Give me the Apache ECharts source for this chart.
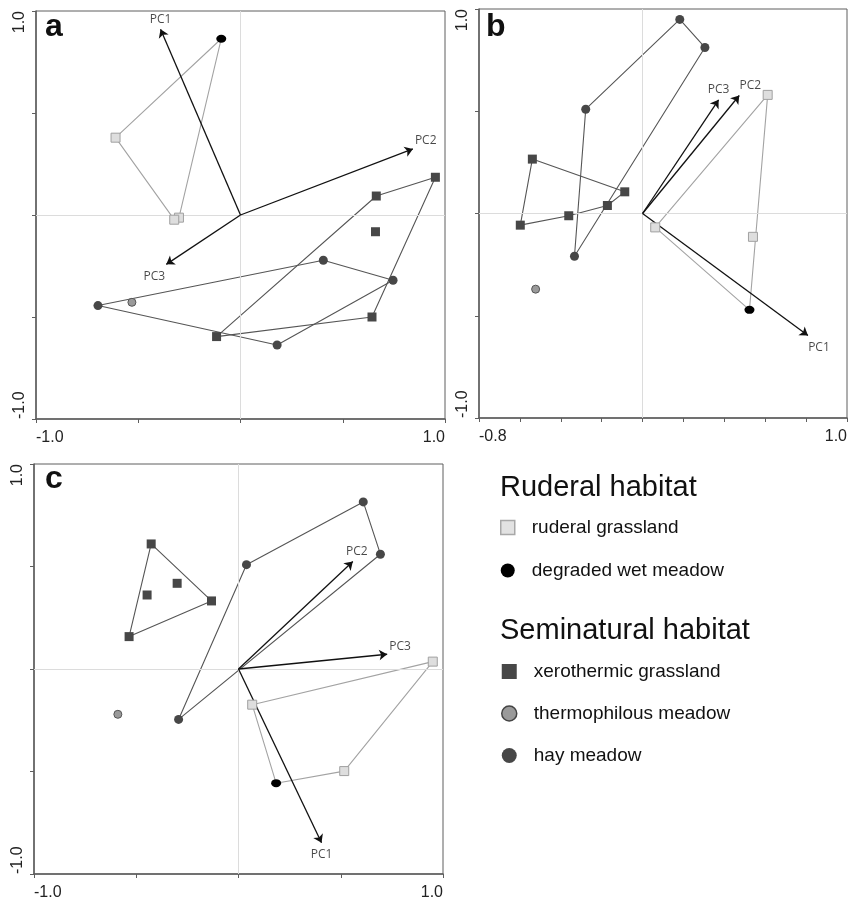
<!DOCTYPE html>
<html>
<head>
<meta charset="utf-8">
<script src="https://cdn.jsdelivr.net/npm/echarts@6/dist/echarts.min.js"></script>
<style>
    html, body { margin: 0; padding: 0; background: #fff; }
    #chart { width: 860px; height: 902px; }
</style>
</head>
<body>
<div id="chart"></div>
<script>
// panel letters and axis end labels
var panelNames = ['a', 'b', 'c'];
var xRanges = [[-1.0, 1.0], [-0.8, 1.0], [-1.0, 1.0]];
var xSteps = [0.5, 0.2, 0.5];
var xTickLabels = [['-1.0', '1.0'], ['-0.8', '1.0'], ['-1.0', '1.0']];
var yTickLabels = ['-1.0', '1.0'];

// panel a
var a_ruderalGrass = [[-0.611, 0.379], [-0.301, -0.013], [-0.324, -0.023]];
var a_degradedWet = [[-0.094, 0.864]];
var a_xerothermic = [[0.953, 0.185], [0.664, 0.093], [0.660, -0.082], [0.643, -0.500], [-0.117, -0.596]];
var a_thermophilous = [[-0.531, -0.428]];
var a_hayMeadow = [[0.405, -0.222], [0.746, -0.320], [0.179, -0.637], [-0.697, -0.444]];
var a_loadings = [['PC1', -0.391, 0.910], ['PC2', 0.843, 0.324], ['PC3', -0.363, -0.242]];

// panel b
var b_ruderalGrass = [[0.612, 0.580], [0.540, -0.114], [0.062, -0.068]];
var b_degradedWet = [[0.523, -0.471]];
var b_xerothermic = [[-0.539, 0.266], [-0.087, 0.106], [-0.172, 0.039], [-0.361, -0.011], [-0.598, -0.057]];
var b_thermophilous = [[-0.523, -0.370]];
var b_hayMeadow = [[0.182, 0.949], [0.305, 0.812], [-0.278, 0.510], [-0.333, -0.209]];
var b_loadings = [['PC1', 0.809, -0.597], ['PC2', 0.473, 0.577], ['PC3', 0.372, 0.556]];

// panel c
var c_ruderalGrass = [[0.950, 0.036], [0.067, -0.174], [0.517, -0.498]];
var c_degradedWet = [[0.184, -0.557]];
var c_xerothermic = [[-0.427, 0.610], [-0.300, 0.418], [-0.447, 0.361], [-0.132, 0.332], [-0.535, 0.158]];
var c_thermophilous = [[-0.590, -0.221]];
var c_hayMeadow = [[0.610, 0.815], [0.694, 0.560], [0.039, 0.509], [-0.293, -0.246]];
var c_loadings = [['PC1', 0.406, -0.848], ['PC2', 0.559, 0.524], ['PC3', 0.727, 0.072]];

var panels = [
    {ruderal: a_ruderalGrass, wet: a_degradedWet, xero: a_xerothermic, thermo: a_thermophilous, hay: a_hayMeadow, pcs: a_loadings},
    {ruderal: b_ruderalGrass, wet: b_degradedWet, xero: b_xerothermic, thermo: b_thermophilous, hay: b_hayMeadow, pcs: b_loadings},
    {ruderal: c_ruderalGrass, wet: c_degradedWet, xero: c_xerothermic, thermo: c_thermophilous, hay: c_hayMeadow, pcs: c_loadings}
];

// where each PC label sits relative to its arrow tip
var pcLabelPos = [
    {PC1: ['top', [0, 0]], PC2: ['right', [-2, -8]], PC3: ['bottom', [-12, 2]]},
    {PC1: ['bottom', [11, 2]], PC2: ['top', [11, 0]], PC3: ['top', [0, 0]]},
    {PC1: ['bottom', [0, 2]], PC2: ['top', [4, 0]], PC3: ['right', [-2, -8]]}
];

var grids = [
    {left: 36, top: 11, width: 409, height: 408},
    {left: 479, top: 9, width: 368, height: 409},
    {left: 34, top: 464, width: 409, height: 410}
];

var FRAME = '#5e5e5e';
var DARK = '#474747';
var LIGHT_LINE = '#a3a3a3';

// convex hull (monotone chain), closed for drawing
function hull(pts) {
    var p = pts.slice().sort(function (u, v) {
        return u[0] - v[0] || u[1] - v[1];
    });
    var cross = function (o, a, b) {
        return (a[0] - o[0]) * (b[1] - o[1]) - (a[1] - o[1]) * (b[0] - o[0]);
    };
    var lower = [], upper = [];
    for (var i = 0; i < p.length; i++) {
        while (lower.length >= 2 && cross(lower[lower.length - 2], lower[lower.length - 1], p[i]) <= 0) lower.pop();
        lower.push(p[i]);
    }
    for (var j = p.length - 1; j >= 0; j--) {
        while (upper.length >= 2 && cross(upper[upper.length - 2], upper[upper.length - 1], p[j]) <= 0) upper.pop();
        upper.push(p[j]);
    }
    upper.pop();
    lower.pop();
    var h = lower.concat(upper);
    h.push(h[0]);
    return h;
}

function endLabel(v, lo, hi, labels) {
    if (Math.abs(v - lo) < 1e-6) return labels[0];
    if (Math.abs(v - hi) < 1e-6) return labels[1];
    return '';
}

var xAxes = [], yAxes = [], series = [], titles = [];

for (var i = 0; i < 3; i++) {
    (function (i) {
        var lo = xRanges[i][0], hi = xRanges[i][1];
        xAxes.push({
            type: 'value', gridIndex: i, min: lo, max: hi, interval: xSteps[i],
            axisLine: {show: true, onZero: false, lineStyle: {color: FRAME, width: 1.5}},
            axisTick: {show: true, inside: false, length: 4, lineStyle: {color: FRAME, width: 1}},
            splitLine: {show: false},
            axisLabel: {
                show: true, margin: 11, color: '#222', fontSize: 16, fontFamily: 'Liberation Sans',
                alignMinLabel: 'left', alignMaxLabel: 'right',
                formatter: function (v) { return endLabel(v, lo, hi, xTickLabels[i]); }
            }
        });
        yAxes.push({
            type: 'value', gridIndex: i, min: -1, max: 1, interval: 0.5,
            axisLine: {show: true, onZero: false, lineStyle: {color: FRAME, width: 1.5}},
            axisTick: {show: true, inside: false, length: 4, lineStyle: {color: FRAME, width: 1}},
            splitLine: {show: false},
            axisLabel: {
                show: true, rotate: 90, margin: 8, color: '#222', fontSize: 16, fontFamily: 'Liberation Sans',
                alignMinLabel: 'left', alignMaxLabel: 'right',
                formatter: function (v) { return endLabel(v, -1, 1, yTickLabels); }
            }
        });

        var pn = panels[i];
        var base = {xAxisIndex: i, yAxisIndex: i, silent: true, animation: false};

        // hulls
        series.push(Object.assign({}, base, {
            type: 'line', name: 'ruderal hull', z: 2,
            data: hull(pn.ruderal.concat(pn.wet)), showSymbol: false, symbol: 'none',
            lineStyle: {color: LIGHT_LINE, width: 1.1},
            markLine: {
                silent: true, symbol: 'none', label: {show: false}, animation: false,
                lineStyle: {color: '#dcdcdc', width: 1, type: 'solid'},
                emphasis: {disabled: true},
                data: [{xAxis: 0}, {yAxis: 0}]
            }
        }));
        series.push(Object.assign({}, base, {
            type: 'line', name: 'xero hull', z: 2,
            data: hull(pn.xero), showSymbol: false, symbol: 'none',
            lineStyle: {color: '#555', width: 1.1}
        }));
        series.push(Object.assign({}, base, {
            type: 'line', name: 'hay hull', z: 2,
            data: hull(pn.hay), showSymbol: false, symbol: 'none',
            lineStyle: {color: '#555', width: 1.1}
        }));

        // loading arrows
        series.push(Object.assign({}, base, {
            type: 'scatter', name: 'loadings', z: 3, symbolSize: 0,
            data: pn.pcs.map(function (d) {
                var lp = pcLabelPos[i][d[0]];
                return {
                    value: [d[1], d[2]], name: d[0],
                    label: {show: true, position: lp[0], offset: lp[1], distance: 4,
                        formatter: '{b}', color: '#1a1a1a', fontSize: 12, fontFamily: 'Open Sans'}
                };
            }),
            markLine: {
                silent: true, animation: false, symbol: ['none', 'arrow'], symbolSize: 8,
                label: {show: false}, emphasis: {disabled: true},
                lineStyle: {color: '#111', width: 1.3, type: 'solid'},
                data: pn.pcs.map(function (d) {
                    return [{coord: [0, 0]}, {coord: [d[1], d[2]]}];
                })
            }
        }));

        // sample points
        series.push(Object.assign({}, base, {
            type: 'scatter', name: 'ruderal grassland', z: 5, symbol: 'rect', symbolSize: 9,
            itemStyle: {color: '#dedede', borderColor: '#a0a0a0', borderWidth: 1, opacity: 1},
            data: pn.ruderal
        }));
        series.push(Object.assign({}, base, {
            type: 'scatter', name: 'degraded wet meadow', z: 5, symbol: 'circle', symbolSize: [10, 8],
            itemStyle: {color: '#000', opacity: 1},
            data: pn.wet
        }));
        series.push(Object.assign({}, base, {
            type: 'scatter', name: 'xerothermic grassland', z: 5, symbol: 'rect', symbolSize: 9,
            itemStyle: {color: DARK, opacity: 1},
            data: pn.xero
        }));
        series.push(Object.assign({}, base, {
            type: 'scatter', name: 'thermophilous meadow', z: 5, symbol: 'circle', symbolSize: 8,
            itemStyle: {color: '#9a9a9a', borderColor: '#555', borderWidth: 1, opacity: 1},
            data: pn.thermo
        }));
        series.push(Object.assign({}, base, {
            type: 'scatter', name: 'hay meadow', z: 5, symbol: 'circle', symbolSize: 9,
            itemStyle: {color: DARK, opacity: 1},
            data: pn.hay
        }));
    })(i);
}

var letterTops = [11, 11, 463];
var letterLefts = [45, 486, 45];
for (var k = 0; k < 3; k++) {
    titles.push({
        text: panelNames[k], left: letterLefts[k], top: letterTops[k], padding: 0,
        textStyle: {fontSize: 32, fontWeight: 'bold', color: '#111', fontFamily: 'Liberation Sans'}
    });
}
titles.push({
    text: 'Ruderal habitat', left: 500, top: 473, padding: 0,
    textStyle: {fontSize: 29, fontWeight: 'normal', color: '#111', fontFamily: 'Liberation Sans'}
});
titles.push({
    text: 'Seminatural habitat', left: 500, top: 616, padding: 0,
    textStyle: {fontSize: 29, fontWeight: 'normal', color: '#111', fontFamily: 'Liberation Sans'}
});

var legendText = {fontSize: 19, color: '#111', fontFamily: 'Liberation Sans', padding: [0, 0, 0, 12]};

var option = {
    animation: false,
    backgroundColor: '#fff',
    title: titles,
    grid: grids.map(function (g) {
        return Object.assign({show: true, borderColor: FRAME, borderWidth: 1, backgroundColor: 'transparent', containLabel: false}, g);
    }),
    xAxis: xAxes,
    yAxis: yAxes,
    legend: [
        {
            orient: 'vertical', left: 500, top: 518, itemWidth: 14, itemHeight: 14, itemGap: 24,
            selectedMode: false, textStyle: legendText, padding: 0,
            data: [
                {name: 'ruderal grassland', icon: 'rect', itemStyle: {color: '#e2e2e2', borderColor: '#a8a8a8', borderWidth: 1.5}},
                {name: 'degraded wet meadow', icon: 'circle', itemStyle: {color: '#000'}}
            ]
        },
        {
            orient: 'vertical', left: 501, top: 662, itemWidth: 15, itemHeight: 15, itemGap: 23,
            selectedMode: false, textStyle: legendText, padding: 0,
            data: [
                {name: 'xerothermic grassland', icon: 'rect', itemStyle: {color: DARK}},
                {name: 'thermophilous meadow', icon: 'circle', itemStyle: {color: '#9a9a9a', borderColor: '#444', borderWidth: 1.5}},
                {name: 'hay meadow', icon: 'circle', itemStyle: {color: DARK}}
            ]
        }
    ],
    series: series
};

var myChart = echarts.init(document.getElementById('chart'), null, {renderer: 'canvas'});
myChart.setOption(option);
</script>
</body>
</html>
